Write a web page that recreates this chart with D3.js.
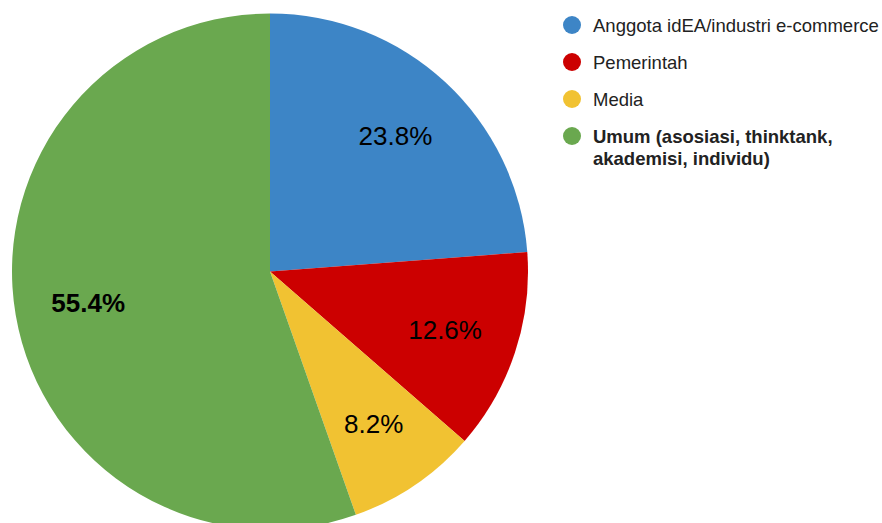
<!DOCTYPE html>
<html>
<head>
  <meta charset="UTF-8">
  <style>
    body { margin: 0; background: #fff; font-family: "Liberation Sans", Arial, sans-serif; }
    svg { display: block; }
  </style>
</head>
<body>
<svg></svg>
<script src="https://d3js.org/d3.v7.min.js"></script>
<script>
const categories = ["Anggota idEA/industri e-commerce", "Pemerintah", "Media", "Umum (asosiasi, thinktank, akademisi, individu)"];
const values = [23.8, 12.6, 8.2, 55.4];
const colors = ["#3d85c6", "#cc0000", "#f1c232", "#6aa84f"];
const legendLines = [["Anggota idEA/industri e-commerce"], ["Pemerintah"], ["Media"], ["Umum (asosiasi, thinktank,", "akademisi, individu)"]];

const width = 882, height = 523;
const cx = 270, cy = 271.5, r = 258;

const svg = d3.select("svg").attr("width", width).attr("height", height);

const pie = d3.pie().sort(null).value(d => d)(values);
const arc = d3.arc().innerRadius(0).outerRadius(r);
const labelArc = d3.arc().innerRadius(r * 0.715).outerRadius(r * 0.715);

const g = svg.append("g").attr("transform", `translate(${cx},${cy})`);

g.selectAll("path")
  .data(pie)
  .enter()
  .append("path")
  .attr("d", arc)
  .attr("fill", (d, i) => colors[i]);

g.selectAll("text")
  .data(pie)
  .enter()
  .append("text")
  .attr("transform", d => `translate(${labelArc.centroid(d)})`)
  .attr("text-anchor", "middle")
  .attr("dy", "0.35em")
  .attr("font-size", 26)
  .attr("font-weight", (d, i) => i === 3 ? "bold" : "normal")
  .attr("fill", "#000")
  .text(d => d.data.toFixed(1) + "%");

const legend = svg.append("g").attr("transform", "translate(572,25)");
const items = legend.selectAll("g")
  .data(categories)
  .enter()
  .append("g")
  .attr("transform", (d, i) => `translate(0,${i * 37})`);

items.append("circle")
  .attr("r", 9)
  .attr("fill", (d, i) => colors[i]);

items.append("text")
  .attr("x", 21)
  .attr("y", 6.5)
  .attr("font-size", 18.5)
  .attr("font-weight", (d, i) => i === 3 ? "bold" : "normal")
  .attr("fill", "#222")
  .selectAll("tspan")
  .data((d, i) => legendLines[i])
  .enter()
  .append("tspan")
  .attr("x", 21)
  .attr("dy", (d, j) => j === 0 ? 0 : 22)
  .text(d => d);
</script>
</body>
</html>
